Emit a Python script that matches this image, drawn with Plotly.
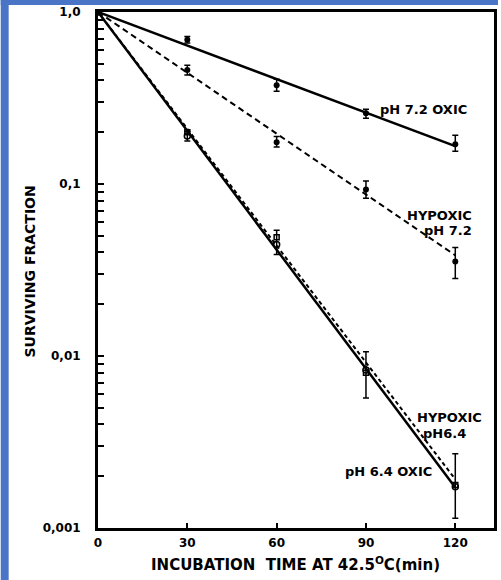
import plotly.graph_objects as go

# ---- data ----
time_min = [0, 30, 60, 90, 120]
x_ticks = [0, 30, 60, 90, 120]
x_tick_labels = ["0", "30", "60", "90", "120"]
y_ticks = [0.001, 0.01, 0.1, 1.0]
y_tick_labels = ["0,001", "0,01", "0,1", "1,0"]

oxic72 = [1.0, 0.69, 0.375, 0.258, 0.170]
oxic72_up = [0, 0.03, 0.032, 0.014, 0.022]
oxic72_dn = [0, 0.03, 0.029, 0.017, 0.015]

hyp72 = [1.0, 0.46, 0.175, 0.093, 0.0354]
hyp72_up = [0, 0.03, 0.014, 0.011, 0.0074]
hyp72_dn = [0, 0.03, 0.011, 0.0105, 0.0072]

oxic64 = [1.0, 0.19, 0.0445, 0.0083, 0.00174]
oxic64_up = [0, 0.012, 0.0094, 0.0023, 0.00096]
oxic64_dn = [0, 0.012, 0.0056, 0.0026, 0.0006]

hyp64 = [1.0, 0.20, 0.049, 0.0080, 0.00178]

fit_x = [0, 120]
fit_oxic72 = [1.0, 0.166]
fit_hyp72 = [1.0, 0.0385]
fit_oxic64 = [1.0, 0.00172]
fit_hyp64 = [1.0, 0.00192]

FONT = "DejaVu Sans, Liberation Sans, sans-serif"
BLUE = "#4a74c6"

fig = go.Figure()

# fitted lines
fig.add_trace(go.Scatter(x=fit_x, y=fit_oxic72, mode="lines",
                         line=dict(color="black", width=2.5)))
fig.add_trace(go.Scatter(x=fit_x, y=fit_hyp72, mode="lines",
                         line=dict(color="black", width=2, dash="6px,4px")))
fig.add_trace(go.Scatter(x=fit_x, y=fit_oxic64, mode="lines",
                         line=dict(color="black", width=2.5)))
fig.add_trace(go.Scatter(x=fit_x, y=fit_hyp64, mode="lines",
                         line=dict(color="black", width=2, dash="4px,3px")))

def err(up, dn):
    return dict(type="data", symmetric=False, array=up, arrayminus=dn,
                color="black", thickness=1.5, width=3)

fig.add_trace(go.Scatter(x=time_min, y=oxic72, mode="markers",
                         marker=dict(symbol="circle", size=6, color="black"),
                         error_y=err(oxic72_up, oxic72_dn)))
fig.add_trace(go.Scatter(x=time_min, y=hyp72, mode="markers",
                         marker=dict(symbol="circle", size=6, color="black"),
                         error_y=err(hyp72_up, hyp72_dn)))
fig.add_trace(go.Scatter(x=time_min, y=oxic64, mode="markers",
                         marker=dict(symbol="circle-open", size=6, color="black",
                                     line=dict(width=1.5)),
                         error_y=err(oxic64_up, oxic64_dn)))
fig.add_trace(go.Scatter(x=time_min, y=hyp64, mode="markers",
                         marker=dict(symbol="square-open", size=5, color="black",
                                     line=dict(width=1.5))))

# series labels
labels = [
    (120 * (426 - 98) / 360, 109, "<b>pH 7.2 OXIC</b>"),
    (120 * (442 - 98) / 360, 215, "<b>HYPOXIC</b>"),
    (120 * (451 - 98) / 360, 230, "<b>pH 7.2</b>"),
    (120 * (452 - 98) / 360, 417, "<b>HYPOXIC</b>"),
    (120 * (447 - 98) / 360, 433, "<b>pH6.4</b>"),
    (120 * (391 - 98) / 360, 471, "<b>pH 6.4 OXIC</b>"),
]
for lx, py, txt in labels:
    fig.add_annotation(x=lx, y=-(py - 12) / 172.0, xref="x", yref="y",
                       text=txt, showarrow=False,
                       font=dict(family=FONT, size=13, color="black"),
                       xanchor="center", yanchor="middle")

W, H = 501, 580
L, R, T, B = 98, 4, 12, 52
pw, ph = W - L - R, H - T - B

def px(xp):
    return (xp - L) / pw

def py_(yp):
    return (H - B - yp) / ph

# axis titles
fig.add_annotation(x=px(297), y=py_(564), xref="paper", yref="paper",
                   text="<b>INCUBATION  TIME AT 42.5<sup>O</sup>C(min)</b>",
                   showarrow=False, font=dict(family=FONT, size=15, color="black"),
                   xanchor="center", yanchor="middle")
fig.add_annotation(x=px(29), y=py_(272), xref="paper", yref="paper",
                   text="<b>SURVIVING FRACTION</b>", textangle=-90,
                   showarrow=False, font=dict(family=FONT, size=14, color="black"),
                   xanchor="center", yanchor="middle")

# blue frame of the slide
fig.add_shape(type="rect", xref="paper", yref="paper",
              x0=px(0), x1=px(8), y0=py_(H), y1=py_(0),
              fillcolor=BLUE, line=dict(width=0), layer="above")
fig.add_shape(type="rect", xref="paper", yref="paper",
              x0=px(0), x1=px(W), y0=py_(5), y1=py_(0),
              fillcolor=BLUE, line=dict(width=0), layer="above")

# minor log ticks
minor_vals = []
for d in [0.001, 0.01, 0.1]:
    for k in range(2, 10):
        minor_vals.append(d * k)

fig.update_layout(
    width=W, height=H,
    margin=dict(l=L, r=R, t=T, b=B),
    paper_bgcolor="white", plot_bgcolor="white",
    showlegend=False, hovermode=False,
    font=dict(family=FONT, color="black"),
    xaxis=dict(range=[0, 120 * pw / 360], tickvals=x_ticks,
               ticktext=["<b>%s</b>" % t for t in x_tick_labels],
               ticks="inside", ticklen=5, tickwidth=1.5, tickcolor="black",
               ticklabelstandoff=2,
               showgrid=False, zeroline=False,
               showline=True, linecolor="black", linewidth=3, mirror=True,
               tickfont=dict(family=FONT, size=12, color="black")),
    yaxis=dict(type="log", range=[-3, 0], tickvals=y_ticks,
               ticktext=["<b>%s</b>" % t for t in y_tick_labels],
               ticks="inside", ticklen=6, tickwidth=2, tickcolor="black",
               ticklabelstandoff=12,
               minor=dict(tickvals=minor_vals, ticks="inside", ticklen=6,
                          tickwidth=2, tickcolor="black", showgrid=False),
               showgrid=False, zeroline=False,
               showline=True, linecolor="black", linewidth=3, mirror=True,
               tickfont=dict(family=FONT, size=12, color="black")),
)

fig.write_html("out.html",
               config={"displayModeBar": False},
               post_script="document.body.style.margin='0';"
                           "document.body.style.overflow='hidden';")
